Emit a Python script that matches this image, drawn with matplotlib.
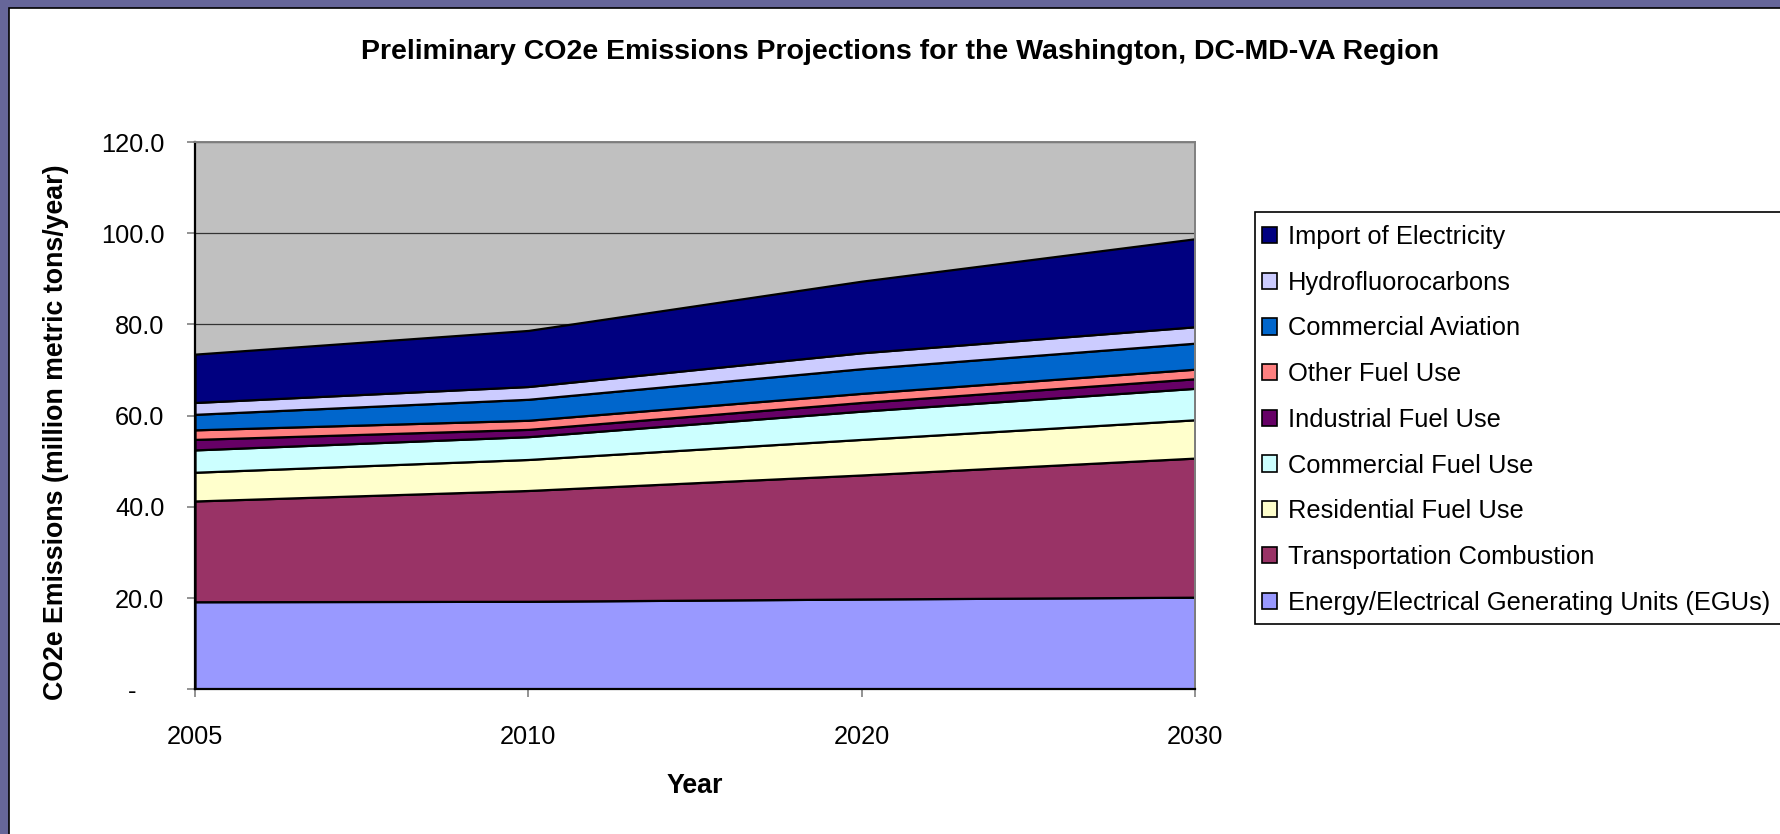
import matplotlib
matplotlib.use('Agg')
import matplotlib.pyplot as plt
from matplotlib.patches import Rectangle, Patch

plt.rcParams['font.family'] = ['Liberation Sans', 'DejaVu Sans']

# data (million metric tons/year)
years = ['2005', '2010', '2020', '2030']
egu = [19.2, 19.3, 19.8, 20.2]
transport = [22.1, 24.3, 27.2, 30.5]
residential = [6.3, 6.8, 7.8, 8.4]
commercial = [4.9, 5.0, 6.2, 6.9]
industrial = [2.3, 1.6, 1.9, 2.1]
other_fuel = [2.1, 2.0, 2.0, 2.1]
aviation = [3.4, 4.6, 5.4, 5.7]
hfc = [2.6, 2.8, 3.5, 3.6]
imports = [10.6, 12.3, 15.7, 19.3]

names = ['Energy/Electrical Generating Units (EGUs)', 'Transportation Combustion',
         'Residential Fuel Use', 'Commercial Fuel Use', 'Industrial Fuel Use',
         'Other Fuel Use', 'Commercial Aviation', 'Hydrofluorocarbons',
         'Import of Electricity']
colors = ['#9999FF', '#993366', '#FFFFCC', '#CCFFFF', '#660066',
          '#FF8080', '#0066CC', '#CCCCFF', '#000080']
series = [egu, transport, residential, commercial, industrial,
          other_fuel, aviation, hfc, imports]

W, H = 1780, 834
fig = plt.figure(figsize=(W / 100, H / 100), dpi=100)
fig.patch.set_facecolor('#666699')

# white slide area with black edge
fig.add_artist(Rectangle((8.5 / W, -0.1), 1.2, (H - 7.5) / H + 0.1,
                         transform=fig.transFigure, facecolor='white',
                         edgecolor='black', lw=1.2, zorder=-2))

ax = fig.add_axes([195 / W, (H - 689.3) / H, 1000 / W, 547.2 / H])
ax.set_facecolor('#C0C0C0')

x = list(range(len(years)))
ax.stackplot(x, series, colors=colors, edgecolor='black', linewidth=1.6)

ax.set_xlim(0, 3)
ax.set_ylim(0, 120)
ax.set_xticks(x)
ax.set_xticklabels(years, fontsize=18.3)
yt = [0, 20, 40, 60, 80, 100, 120]
ax.set_yticks(yt)
ax.set_yticklabels(['-    '] + ['%.1f' % v for v in yt[1:]], fontsize=18.3)
ax.tick_params(axis='both', direction='out', length=6, color='#808080', width=1.2)
ax.tick_params(axis='y', pad=16)
ax.tick_params(axis='x', pad=20)

ax.set_axisbelow(True)
ax.yaxis.grid(True, color='#333333', lw=0.9)

for s in ['left', 'bottom']:
    ax.spines[s].set_color('black')
    ax.spines[s].set_linewidth(1.6)
for s in ['top', 'right']:
    ax.spines[s].set_color('#808080')
    ax.spines[s].set_linewidth(1.4)

ax.set_xlabel('Year', fontsize=19.3, fontweight='bold', labelpad=17)
ax.set_ylabel('CO2e Emissions (million metric tons/year)', fontsize=19.3,
              fontweight='bold')
ax.yaxis.set_label_coords(-0.126, 0.47)

fig.text(900 / W, 1 - 52 / H,
         'Preliminary CO2e Emissions Projections for the Washington, DC-MD-VA Region',
         ha='center', va='center', fontsize=20.5, fontweight='bold')

# legend box (runs off the right edge like the original)
fig.add_artist(Rectangle((1255 / W, (H - 624) / H), 0.4, (624 - 212.3) / H,
                         transform=fig.transFigure, facecolor='white',
                         edgecolor='black', lw=1.2, zorder=1))
handles = [Patch(facecolor=c, edgecolor='black', lw=1.2) for c in colors][::-1]
leg = fig.legend(handles, names[::-1], loc='upper left',
                 bbox_to_anchor=(1262 / W, 1 - 225 / H), bbox_transform=fig.transFigure,
                 frameon=False, fontsize=18.4, handlelength=0.6, handleheight=0.6,
                 handletextpad=0.4, labelspacing=0.85, borderpad=0, borderaxespad=0)
leg.set_zorder(2)

fig.savefig('out.png', dpi=100, facecolor=fig.get_facecolor())
